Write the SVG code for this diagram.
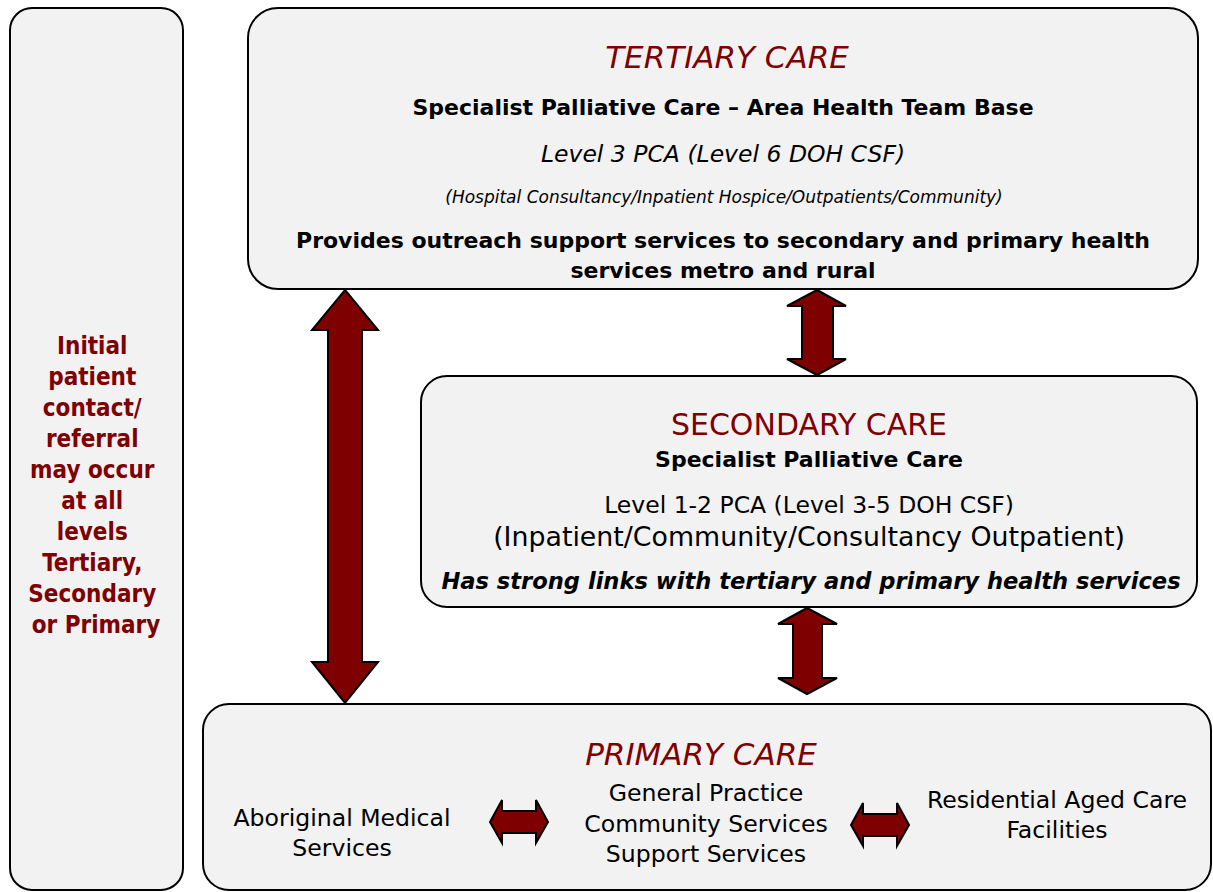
<svg xmlns="http://www.w3.org/2000/svg" width="1213" height="892" viewBox="0 0 1213 892">
<style>
.box{fill:#F2F2F2;stroke:#000;stroke-width:2}
.arr{fill:#7F0000;stroke:#000;stroke-width:2;stroke-linejoin:miter}
text{font-family:"DejaVu Sans",sans-serif;text-anchor:middle;fill:#000}
.cond{font-family:"DejaVu Sans Condensed","DejaVu Sans",sans-serif}
.red{fill:#7F0000}
.title{font-size:31px}
.b{font-weight:bold}
.i{font-style:italic}
.m{font-size:22px}
.p{font-size:23.6px}
</style>
<rect width="1213" height="892" fill="#fff"/>
<g id="left-note">
<rect class="box" x="10" y="8" width="173" height="882" rx="22"/>
<text class="red b cond" font-size="24">
<tspan x="96" y="354">Initial</tspan>
<tspan x="96" y="385">patient</tspan>
<tspan x="96" y="416">contact/</tspan>
<tspan x="96" y="447">referral</tspan>
<tspan x="96" y="478">may occur</tspan>
<tspan x="96" y="509">at all</tspan>
<tspan x="96" y="540">levels</tspan>
<tspan x="96" y="571">Tertiary,</tspan>
<tspan x="96" y="602">Secondary</tspan>
<tspan x="96" y="633">or Primary</tspan>
</text>
</g>
<g id="tertiary">
<rect class="box" x="248" y="8" width="950" height="281" rx="30"/>
<text class="red i title" x="727" y="68">TERTIARY CARE</text>
<text class="b m" x="723" y="115">Specialist Palliative Care – Area Health Team Base</text>
<text class="i" font-size="23.5" x="723" y="162">Level 3 PCA (Level 6 DOH CSF)</text>
<text class="i" font-size="17" x="724" y="203">(Hospital Consultancy/Inpatient Hospice/Outpatients/Community)</text>
<text class="b m" x="723" y="248">Provides outreach support services to secondary and primary health</text>
<text class="b m" x="723" y="278">services metro and rural</text>
</g>
<g id="secondary">
<rect class="box" x="421" y="376" width="776" height="231" rx="26"/>
<text class="red" font-size="30" x="809" y="435">SECONDARY CARE</text>
<text class="b m" x="809" y="467">Specialist Palliative Care</text>
<text font-size="23.5" x="809" y="513">Level 1-2 PCA (Level 3-5 DOH CSF)</text>
<text font-size="26.8" x="809" y="546">(Inpatient/Community/Consultancy Outpatient)</text>
<text class="b i" font-size="22.6" x="811" y="589">Has strong links with tertiary and primary health services</text>
</g>
<g id="primary">
<rect class="box" x="203" y="704" width="1008" height="186" rx="26"/>
<text class="red i title" x="701" y="765">PRIMARY CARE</text>
<text class="p"><tspan x="342" y="826">Aboriginal Medical</tspan><tspan x="342" y="856">Services</tspan></text>
<text class="p"><tspan x="706" y="801">General Practice</tspan><tspan x="706" y="832">Community Services</tspan><tspan x="706" y="862">Support Services</tspan></text>
<text class="p"><tspan x="1057" y="808">Residential Aged Care</tspan><tspan x="1057" y="838">Facilities</tspan></text>
</g>
<g id="connectors">
<polygon class="arr" points="345,290 378,330 362,330 362,662 378,662 345,703 312,662 328,662 328,330 312,330"/>
<polygon class="arr" points="817,290 846,306 833,306 833,359 846,359 817,375 787,359 802,359 802,306 787,306"/>
<polygon class="arr" points="807,608 837,624 822,624 822,678 837,678 807,694 778,678 793,678 793,624 778,624"/>
<polygon class="arr" points="490,822 502,800 502,811 536,811 536,800 548,822 536,843 536,833 502,833 502,843"/>
<polygon class="arr" points="851,825 863,803 863,814 897,814 897,803 909,825 897,846 897,836 863,836 863,846"/>
</g>
</svg>
